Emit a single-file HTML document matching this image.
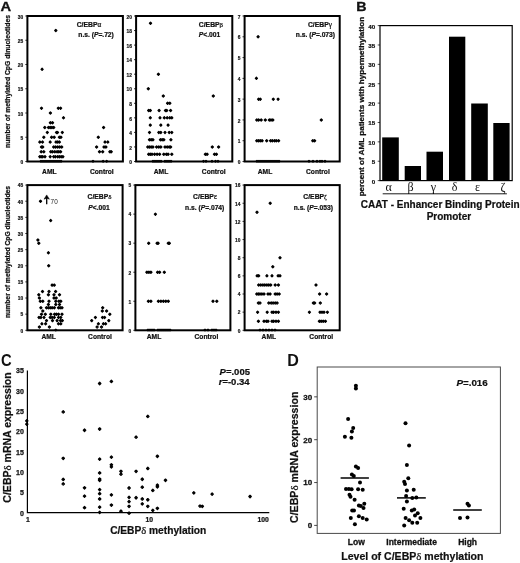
<!DOCTYPE html>
<html lang="en"><head><meta charset="utf-8"><title>Figure</title>
<style>html,body{margin:0;padding:0;background:#fff}svg{display:block}</style></head>
<body>
<svg width="520" height="563" viewBox="0 0 520 563" font-family="Liberation Sans, sans-serif">
<rect width="520" height="563" fill="#fff"/>
<text transform="translate(0.6 10.8) scale(1.19 1)" font-size="12.4" font-weight="bold" fill="#111" stroke="#111" stroke-width="0.3">A</text>
<text transform="translate(356.3 10.5) scale(1.15 1)" font-size="12.4" font-weight="bold" fill="#111" stroke="#111" stroke-width="0.3">B</text>
<text transform="translate(0.9 365.8) scale(0.9 1)" font-size="16.4" font-weight="bold" fill="#111">C</text>
<text transform="translate(287.2 365.6) scale(0.98 1)" font-size="16.4" font-weight="bold" fill="#111">D</text>
<rect x="27.4" y="16.0" width="95.5" height="145.5" fill="none" stroke="#000" stroke-width="2.0"/>
<line x1="25.299999999999997" y1="161.50" x2="27.4" y2="161.50" stroke="#000" stroke-width="0.8"/>
<text x="23.20" y="164.20" font-size="5.6" font-weight="bold" text-anchor="end" fill="#111" stroke="#111" stroke-width="0.20" stroke-linejoin="round" textLength="2.70" lengthAdjust="spacingAndGlyphs">0</text>
<line x1="25.299999999999997" y1="137.25" x2="27.4" y2="137.25" stroke="#000" stroke-width="0.8"/>
<text x="23.20" y="139.95" font-size="5.6" font-weight="bold" text-anchor="end" fill="#111" stroke="#111" stroke-width="0.20" stroke-linejoin="round" textLength="2.70" lengthAdjust="spacingAndGlyphs">5</text>
<line x1="25.299999999999997" y1="113.00" x2="27.4" y2="113.00" stroke="#000" stroke-width="0.8"/>
<text x="23.20" y="115.70" font-size="5.6" font-weight="bold" text-anchor="end" fill="#111" stroke="#111" stroke-width="0.20" stroke-linejoin="round" textLength="5.40" lengthAdjust="spacingAndGlyphs">10</text>
<line x1="25.299999999999997" y1="88.75" x2="27.4" y2="88.75" stroke="#000" stroke-width="0.8"/>
<text x="23.20" y="91.45" font-size="5.6" font-weight="bold" text-anchor="end" fill="#111" stroke="#111" stroke-width="0.20" stroke-linejoin="round" textLength="5.40" lengthAdjust="spacingAndGlyphs">15</text>
<line x1="25.299999999999997" y1="64.50" x2="27.4" y2="64.50" stroke="#000" stroke-width="0.8"/>
<text x="23.20" y="67.20" font-size="5.6" font-weight="bold" text-anchor="end" fill="#111" stroke="#111" stroke-width="0.20" stroke-linejoin="round" textLength="5.40" lengthAdjust="spacingAndGlyphs">20</text>
<line x1="25.299999999999997" y1="40.25" x2="27.4" y2="40.25" stroke="#000" stroke-width="0.8"/>
<text x="23.20" y="42.95" font-size="5.6" font-weight="bold" text-anchor="end" fill="#111" stroke="#111" stroke-width="0.20" stroke-linejoin="round" textLength="5.40" lengthAdjust="spacingAndGlyphs">25</text>
<line x1="25.299999999999997" y1="16.00" x2="27.4" y2="16.00" stroke="#000" stroke-width="0.8"/>
<text x="23.20" y="18.70" font-size="5.6" font-weight="bold" text-anchor="end" fill="#111" stroke="#111" stroke-width="0.20" stroke-linejoin="round" textLength="5.40" lengthAdjust="spacingAndGlyphs">30</text>
<g fill="#000" stroke="#000" stroke-width="1.3" stroke-linejoin="round">
<path d="M54.75 30.55L55.80 29.50L56.85 30.55L55.80 31.60Z"/>
<path d="M41.05 69.35L42.10 68.30L43.15 69.35L42.10 70.40Z"/>
<path d="M40.45 108.15L41.50 107.10L42.55 108.15L41.50 109.20Z"/>
<path d="M57.25 108.15L58.30 107.10L59.35 108.15L58.30 109.20Z"/>
<path d="M59.55 108.15L60.60 107.10L61.65 108.15L60.60 109.20Z"/>
<path d="M49.35 113.00L50.40 111.95L51.45 113.00L50.40 114.05Z"/>
<path d="M62.45 117.85L63.50 116.80L64.55 117.85L63.50 118.90Z"/>
<path d="M49.35 122.70L50.40 121.65L51.45 122.70L50.40 123.75Z"/>
<path d="M51.45 122.70L52.50 121.65L53.55 122.70L52.50 123.75Z"/>
<path d="M43.75 127.55L44.80 126.50L45.85 127.55L44.80 128.60Z"/>
<path d="M47.45 127.55L48.50 126.50L49.55 127.55L48.50 128.60Z"/>
<path d="M49.15 127.55L50.20 126.50L51.25 127.55L50.20 128.60Z"/>
<path d="M50.85 127.55L51.90 126.50L52.95 127.55L51.90 128.60Z"/>
<path d="M52.65 127.55L53.70 126.50L54.75 127.55L53.70 128.60Z"/>
<path d="M46.25 132.40L47.30 131.35L48.35 132.40L47.30 133.45Z"/>
<path d="M55.45 132.40L56.50 131.35L57.55 132.40L56.50 133.45Z"/>
<path d="M56.45 132.40L57.50 131.35L58.55 132.40L57.50 133.45Z"/>
<path d="M61.25 132.40L62.30 131.35L63.35 132.40L62.30 133.45Z"/>
<path d="M42.75 137.25L43.80 136.20L44.85 137.25L43.80 138.30Z"/>
<path d="M50.55 137.25L51.60 136.20L52.65 137.25L51.60 138.30Z"/>
<path d="M53.15 137.25L54.20 136.20L55.25 137.25L54.20 138.30Z"/>
<path d="M58.35 137.25L59.40 136.20L60.45 137.25L59.40 138.30Z"/>
<path d="M59.85 137.25L60.90 136.20L61.95 137.25L60.90 138.30Z"/>
<path d="M38.75 142.10L39.80 141.05L40.85 142.10L39.80 143.15Z"/>
<path d="M41.45 142.10L42.50 141.05L43.55 142.10L42.50 143.15Z"/>
<path d="M49.15 142.10L50.20 141.05L51.25 142.10L50.20 143.15Z"/>
<path d="M54.95 142.10L56.00 141.05L57.05 142.10L56.00 143.15Z"/>
<path d="M56.65 142.10L57.70 141.05L58.75 142.10L57.70 143.15Z"/>
<path d="M58.35 142.10L59.40 141.05L60.45 142.10L59.40 143.15Z"/>
<path d="M40.45 146.95L41.50 145.90L42.55 146.95L41.50 148.00Z"/>
<path d="M41.65 146.95L42.70 145.90L43.75 146.95L42.70 148.00Z"/>
<path d="M52.65 146.95L53.70 145.90L54.75 146.95L53.70 148.00Z"/>
<path d="M54.55 146.95L55.60 145.90L56.65 146.95L55.60 148.00Z"/>
<path d="M56.65 146.95L57.70 145.90L58.75 146.95L57.70 148.00Z"/>
<path d="M58.65 146.95L59.70 145.90L60.75 146.95L59.70 148.00Z"/>
<path d="M60.65 146.95L61.70 145.90L62.75 146.95L61.70 148.00Z"/>
<path d="M40.15 151.80L41.20 150.75L42.25 151.80L41.20 152.85Z"/>
<path d="M42.75 151.80L43.80 150.75L44.85 151.80L43.80 152.85Z"/>
<path d="M49.75 151.80L50.80 150.75L51.85 151.80L50.80 152.85Z"/>
<path d="M51.45 151.80L52.50 150.75L53.55 151.80L52.50 152.85Z"/>
<path d="M53.75 151.80L54.80 150.75L55.85 151.80L54.80 152.85Z"/>
<path d="M56.05 151.80L57.10 150.75L58.15 151.80L57.10 152.85Z"/>
<path d="M57.75 151.80L58.80 150.75L59.85 151.80L58.80 152.85Z"/>
<path d="M59.55 151.80L60.60 150.75L61.65 151.80L60.60 152.85Z"/>
<path d="M38.75 156.65L39.80 155.60L40.85 156.65L39.80 157.70Z"/>
<path d="M40.15 156.65L41.20 155.60L42.25 156.65L41.20 157.70Z"/>
<path d="M41.65 156.65L42.70 155.60L43.75 156.65L42.70 157.70Z"/>
<path d="M43.95 156.65L45.00 155.60L46.05 156.65L45.00 157.70Z"/>
<path d="M49.15 156.65L50.20 155.60L51.25 156.65L50.20 157.70Z"/>
<path d="M52.65 156.65L53.70 155.60L54.75 156.65L53.70 157.70Z"/>
<path d="M54.35 156.65L55.40 155.60L56.45 156.65L55.40 157.70Z"/>
<path d="M56.65 156.65L57.70 155.60L58.75 156.65L57.70 157.70Z"/>
<path d="M58.35 156.65L59.40 155.60L60.45 156.65L59.40 157.70Z"/>
<path d="M60.15 156.65L61.20 155.60L62.25 156.65L61.20 157.70Z"/>
<path d="M61.85 156.65L62.90 155.60L63.95 156.65L62.90 157.70Z"/>
<path d="M40.15 161.25L41.00 160.40L41.85 161.25L41.00 162.10Z"/>
<path d="M42.15 161.25L43.00 160.40L43.85 161.25L43.00 162.10Z"/>
<path d="M44.15 161.25L45.00 160.40L45.85 161.25L45.00 162.10Z"/>
<path d="M46.15 161.25L47.00 160.40L47.85 161.25L47.00 162.10Z"/>
<path d="M48.15 161.25L49.00 160.40L49.85 161.25L49.00 162.10Z"/>
<path d="M50.15 161.25L51.00 160.40L51.85 161.25L51.00 162.10Z"/>
<path d="M52.15 161.25L53.00 160.40L53.85 161.25L53.00 162.10Z"/>
<path d="M54.15 161.25L55.00 160.40L55.85 161.25L55.00 162.10Z"/>
<path d="M56.15 161.25L57.00 160.40L57.85 161.25L57.00 162.10Z"/>
<path d="M58.15 161.25L59.00 160.40L59.85 161.25L59.00 162.10Z"/>
<path d="M60.15 161.25L61.00 160.40L61.85 161.25L61.00 162.10Z"/>
<path d="M102.55 127.55L103.60 126.50L104.65 127.55L103.60 128.60Z"/>
<path d="M97.25 137.25L98.30 136.20L99.35 137.25L98.30 138.30Z"/>
<path d="M103.95 142.10L105.00 141.05L106.05 142.10L105.00 143.15Z"/>
<path d="M106.75 142.10L107.80 141.05L108.85 142.10L107.80 143.15Z"/>
<path d="M95.55 146.95L96.60 145.90L97.65 146.95L96.60 148.00Z"/>
<path d="M102.95 146.95L104.00 145.90L105.05 146.95L104.00 148.00Z"/>
<path d="M104.85 146.95L105.90 145.90L106.95 146.95L105.90 148.00Z"/>
<path d="M98.45 151.80L99.50 150.75L100.55 151.80L99.50 152.85Z"/>
<path d="M101.65 151.80L102.70 150.75L103.75 151.80L102.70 152.85Z"/>
<path d="M108.85 151.80L109.90 150.75L110.95 151.80L109.90 152.85Z"/>
<path d="M110.15 151.80L111.20 150.75L112.25 151.80L111.20 152.85Z"/>
<path d="M92.15 161.25L93.00 160.40L93.85 161.25L93.00 162.10Z"/>
<path d="M102.25 161.25L103.10 160.40L103.95 161.25L103.10 162.10Z"/>
<path d="M105.85 161.25L106.70 160.40L107.55 161.25L106.70 162.10Z"/>
</g>
<text x="49.30" y="173.50" font-size="6.7" font-weight="bold" text-anchor="middle" fill="#111" stroke="#111" stroke-width="0.23" stroke-linejoin="round" >AML</text>
<text x="101.80" y="173.50" font-size="6.7" font-weight="bold" text-anchor="middle" fill="#111" stroke="#111" stroke-width="0.23" stroke-linejoin="round" >Control</text>
<text x="76.70" y="27.10" font-size="6.8" font-weight="bold" text-anchor="start" fill="#111" stroke="#111" stroke-width="0.24" stroke-linejoin="round" >C/EBP<tspan font-family="Liberation Serif, serif" font-weight="normal" font-size="7.2">α</tspan></text>
<text x="78.30" y="37.40" font-size="6.7" font-weight="bold" text-anchor="start" fill="#111" stroke="#111" stroke-width="0.23" stroke-linejoin="round" >n.s. (<tspan font-style="italic">P</tspan>=.72)</text>
<rect x="136.1" y="16.0" width="96.20000000000002" height="145.5" fill="none" stroke="#000" stroke-width="2.0"/>
<line x1="134.0" y1="161.50" x2="136.1" y2="161.50" stroke="#000" stroke-width="0.8"/>
<text x="131.90" y="164.20" font-size="5.6" font-weight="bold" text-anchor="end" fill="#111" stroke="#111" stroke-width="0.20" stroke-linejoin="round" textLength="2.70" lengthAdjust="spacingAndGlyphs">0</text>
<line x1="134.0" y1="146.95" x2="136.1" y2="146.95" stroke="#000" stroke-width="0.8"/>
<text x="131.90" y="149.65" font-size="5.6" font-weight="bold" text-anchor="end" fill="#111" stroke="#111" stroke-width="0.20" stroke-linejoin="round" textLength="2.70" lengthAdjust="spacingAndGlyphs">2</text>
<line x1="134.0" y1="132.40" x2="136.1" y2="132.40" stroke="#000" stroke-width="0.8"/>
<text x="131.90" y="135.10" font-size="5.6" font-weight="bold" text-anchor="end" fill="#111" stroke="#111" stroke-width="0.20" stroke-linejoin="round" textLength="2.70" lengthAdjust="spacingAndGlyphs">4</text>
<line x1="134.0" y1="117.85" x2="136.1" y2="117.85" stroke="#000" stroke-width="0.8"/>
<text x="131.90" y="120.55" font-size="5.6" font-weight="bold" text-anchor="end" fill="#111" stroke="#111" stroke-width="0.20" stroke-linejoin="round" textLength="2.70" lengthAdjust="spacingAndGlyphs">6</text>
<line x1="134.0" y1="103.30" x2="136.1" y2="103.30" stroke="#000" stroke-width="0.8"/>
<text x="131.90" y="106.00" font-size="5.6" font-weight="bold" text-anchor="end" fill="#111" stroke="#111" stroke-width="0.20" stroke-linejoin="round" textLength="2.70" lengthAdjust="spacingAndGlyphs">8</text>
<line x1="134.0" y1="88.75" x2="136.1" y2="88.75" stroke="#000" stroke-width="0.8"/>
<text x="131.90" y="91.45" font-size="5.6" font-weight="bold" text-anchor="end" fill="#111" stroke="#111" stroke-width="0.20" stroke-linejoin="round" textLength="5.40" lengthAdjust="spacingAndGlyphs">10</text>
<line x1="134.0" y1="74.20" x2="136.1" y2="74.20" stroke="#000" stroke-width="0.8"/>
<text x="131.90" y="76.90" font-size="5.6" font-weight="bold" text-anchor="end" fill="#111" stroke="#111" stroke-width="0.20" stroke-linejoin="round" textLength="5.40" lengthAdjust="spacingAndGlyphs">12</text>
<line x1="134.0" y1="59.65" x2="136.1" y2="59.65" stroke="#000" stroke-width="0.8"/>
<text x="131.90" y="62.35" font-size="5.6" font-weight="bold" text-anchor="end" fill="#111" stroke="#111" stroke-width="0.20" stroke-linejoin="round" textLength="5.40" lengthAdjust="spacingAndGlyphs">14</text>
<line x1="134.0" y1="45.10" x2="136.1" y2="45.10" stroke="#000" stroke-width="0.8"/>
<text x="131.90" y="47.80" font-size="5.6" font-weight="bold" text-anchor="end" fill="#111" stroke="#111" stroke-width="0.20" stroke-linejoin="round" textLength="5.40" lengthAdjust="spacingAndGlyphs">16</text>
<line x1="134.0" y1="30.55" x2="136.1" y2="30.55" stroke="#000" stroke-width="0.8"/>
<text x="131.90" y="33.25" font-size="5.6" font-weight="bold" text-anchor="end" fill="#111" stroke="#111" stroke-width="0.20" stroke-linejoin="round" textLength="5.40" lengthAdjust="spacingAndGlyphs">18</text>
<line x1="134.0" y1="16.00" x2="136.1" y2="16.00" stroke="#000" stroke-width="0.8"/>
<text x="131.90" y="18.70" font-size="5.6" font-weight="bold" text-anchor="end" fill="#111" stroke="#111" stroke-width="0.20" stroke-linejoin="round" textLength="5.40" lengthAdjust="spacingAndGlyphs">20</text>
<g fill="#000" stroke="#000" stroke-width="1.3" stroke-linejoin="round">
<path d="M149.45 23.28L150.50 22.23L151.55 23.28L150.50 24.33Z"/>
<path d="M157.35 74.20L158.40 73.15L159.45 74.20L158.40 75.25Z"/>
<path d="M147.25 88.75L148.30 87.70L149.35 88.75L148.30 89.80Z"/>
<path d="M162.25 96.03L163.30 94.98L164.35 96.03L163.30 97.08Z"/>
<path d="M166.55 103.30L167.60 102.25L168.65 103.30L167.60 104.35Z"/>
<path d="M168.75 103.30L169.80 102.25L170.85 103.30L169.80 104.35Z"/>
<path d="M147.65 110.58L148.70 109.53L149.75 110.58L148.70 111.62Z"/>
<path d="M149.25 110.58L150.30 109.53L151.35 110.58L150.30 111.62Z"/>
<path d="M158.05 110.58L159.10 109.53L160.15 110.58L159.10 111.62Z"/>
<path d="M164.45 110.58L165.50 109.53L166.55 110.58L165.50 111.62Z"/>
<path d="M165.65 110.58L166.70 109.53L167.75 110.58L166.70 111.62Z"/>
<path d="M169.55 110.58L170.60 109.53L171.65 110.58L170.60 111.62Z"/>
<path d="M149.25 117.85L150.30 116.80L151.35 117.85L150.30 118.90Z"/>
<path d="M158.95 117.85L160.00 116.80L161.05 117.85L160.00 118.90Z"/>
<path d="M163.25 117.85L164.30 116.80L165.35 117.85L164.30 118.90Z"/>
<path d="M166.15 117.85L167.20 116.80L168.25 117.85L167.20 118.90Z"/>
<path d="M168.75 117.85L169.80 116.80L170.85 117.85L169.80 118.90Z"/>
<path d="M170.75 117.85L171.80 116.80L172.85 117.85L171.80 118.90Z"/>
<path d="M149.25 125.12L150.30 124.08L151.35 125.12L150.30 126.17Z"/>
<path d="M159.75 125.12L160.80 124.08L161.85 125.12L160.80 126.17Z"/>
<path d="M167.05 125.12L168.10 124.08L169.15 125.12L168.10 126.17Z"/>
<path d="M148.45 132.40L149.50 131.35L150.55 132.40L149.50 133.45Z"/>
<path d="M157.75 132.40L158.80 131.35L159.85 132.40L158.80 133.45Z"/>
<path d="M159.75 132.40L160.80 131.35L161.85 132.40L160.80 133.45Z"/>
<path d="M163.95 132.40L165.00 131.35L166.05 132.40L165.00 133.45Z"/>
<path d="M168.15 132.40L169.20 131.35L170.25 132.40L169.20 133.45Z"/>
<path d="M170.75 132.40L171.80 131.35L172.85 132.40L171.80 133.45Z"/>
<path d="M148.45 139.68L149.50 138.62L150.55 139.68L149.50 140.73Z"/>
<path d="M150.15 139.68L151.20 138.62L152.25 139.68L151.20 140.73Z"/>
<path d="M151.85 139.68L152.90 138.62L153.95 139.68L152.90 140.73Z"/>
<path d="M159.45 139.68L160.50 138.62L161.55 139.68L160.50 140.73Z"/>
<path d="M161.15 139.68L162.20 138.62L163.25 139.68L162.20 140.73Z"/>
<path d="M162.75 139.68L163.80 138.62L164.85 139.68L163.80 140.73Z"/>
<path d="M169.85 139.68L170.90 138.62L171.95 139.68L170.90 140.73Z"/>
<path d="M146.75 146.95L147.80 145.90L148.85 146.95L147.80 148.00Z"/>
<path d="M148.45 146.95L149.50 145.90L150.55 146.95L149.50 148.00Z"/>
<path d="M150.15 146.95L151.20 145.90L152.25 146.95L151.20 148.00Z"/>
<path d="M151.85 146.95L152.90 145.90L153.95 146.95L152.90 148.00Z"/>
<path d="M155.55 146.95L156.60 145.90L157.65 146.95L156.60 148.00Z"/>
<path d="M157.75 146.95L158.80 145.90L159.85 146.95L158.80 148.00Z"/>
<path d="M159.75 146.95L160.80 145.90L161.85 146.95L160.80 148.00Z"/>
<path d="M163.95 146.95L165.00 145.90L166.05 146.95L165.00 148.00Z"/>
<path d="M166.15 146.95L167.20 145.90L168.25 146.95L167.20 148.00Z"/>
<path d="M168.15 146.95L169.20 145.90L170.25 146.95L169.20 148.00Z"/>
<path d="M169.55 146.95L170.60 145.90L171.65 146.95L170.60 148.00Z"/>
<path d="M147.65 154.22L148.70 153.17L149.75 154.22L148.70 155.28Z"/>
<path d="M149.25 154.22L150.30 153.17L151.35 154.22L150.30 155.28Z"/>
<path d="M150.95 154.22L152.00 153.17L153.05 154.22L152.00 155.28Z"/>
<path d="M153.55 154.22L154.60 153.17L155.65 154.22L154.60 155.28Z"/>
<path d="M156.05 154.22L157.10 153.17L158.15 154.22L157.10 155.28Z"/>
<path d="M158.55 154.22L159.60 153.17L160.65 154.22L159.60 155.28Z"/>
<path d="M162.75 154.22L163.80 153.17L164.85 154.22L163.80 155.28Z"/>
<path d="M165.35 154.22L166.40 153.17L167.45 154.22L166.40 155.28Z"/>
<path d="M167.05 154.22L168.10 153.17L169.15 154.22L168.10 155.28Z"/>
<path d="M170.75 154.22L171.80 153.17L172.85 154.22L171.80 155.28Z"/>
<path d="M152.15 161.25L153.00 160.40L153.85 161.25L153.00 162.10Z"/>
<path d="M154.15 161.25L155.00 160.40L155.85 161.25L155.00 162.10Z"/>
<path d="M156.15 161.25L157.00 160.40L157.85 161.25L157.00 162.10Z"/>
<path d="M158.15 161.25L159.00 160.40L159.85 161.25L159.00 162.10Z"/>
<path d="M160.15 161.25L161.00 160.40L161.85 161.25L161.00 162.10Z"/>
<path d="M164.15 161.25L165.00 160.40L165.85 161.25L165.00 162.10Z"/>
<path d="M166.15 161.25L167.00 160.40L167.85 161.25L167.00 162.10Z"/>
<path d="M168.15 161.25L169.00 160.40L169.85 161.25L169.00 162.10Z"/>
<path d="M170.15 161.25L171.00 160.40L171.85 161.25L171.00 162.10Z"/>
<path d="M212.25 96.03L213.30 94.98L214.35 96.03L213.30 97.08Z"/>
<path d="M211.25 146.95L212.30 145.90L213.35 146.95L212.30 148.00Z"/>
<path d="M217.55 146.95L218.60 145.90L219.65 146.95L218.60 148.00Z"/>
<path d="M204.35 154.22L205.40 153.17L206.45 154.22L205.40 155.28Z"/>
<path d="M206.05 154.22L207.10 153.17L208.15 154.22L207.10 155.28Z"/>
<path d="M213.45 154.22L214.50 153.17L215.55 154.22L214.50 155.28Z"/>
<path d="M215.35 154.22L216.40 153.17L217.45 154.22L216.40 155.28Z"/>
<path d="M202.65 161.25L203.50 160.40L204.35 161.25L203.50 162.10Z"/>
<path d="M205.15 161.25L206.00 160.40L206.85 161.25L206.00 162.10Z"/>
<path d="M211.15 161.25L212.00 160.40L212.85 161.25L212.00 162.10Z"/>
<path d="M214.65 161.25L215.50 160.40L216.35 161.25L215.50 162.10Z"/>
<path d="M217.15 161.25L218.00 160.40L218.85 161.25L218.00 162.10Z"/>
</g>
<text x="161.00" y="173.50" font-size="6.7" font-weight="bold" text-anchor="middle" fill="#111" stroke="#111" stroke-width="0.23" stroke-linejoin="round" >AML</text>
<text x="213.70" y="173.50" font-size="6.7" font-weight="bold" text-anchor="middle" fill="#111" stroke="#111" stroke-width="0.23" stroke-linejoin="round" >Control</text>
<text x="198.80" y="27.10" font-size="6.8" font-weight="bold" text-anchor="start" fill="#111" stroke="#111" stroke-width="0.24" stroke-linejoin="round" >C/EBP<tspan font-family="Liberation Serif, serif" font-weight="normal" font-size="6.8">β</tspan></text>
<text x="198.80" y="37.40" font-size="6.7" font-weight="bold" text-anchor="start" fill="#111" stroke="#111" stroke-width="0.23" stroke-linejoin="round" ><tspan font-style="italic">P</tspan>&lt;.001</text>
<rect x="244.6" y="16.0" width="95.1" height="145.5" fill="none" stroke="#000" stroke-width="2.0"/>
<line x1="242.5" y1="161.50" x2="244.6" y2="161.50" stroke="#000" stroke-width="0.8"/>
<text x="240.40" y="164.20" font-size="5.6" font-weight="bold" text-anchor="end" fill="#111" stroke="#111" stroke-width="0.20" stroke-linejoin="round" textLength="2.70" lengthAdjust="spacingAndGlyphs">0</text>
<line x1="242.5" y1="140.71" x2="244.6" y2="140.71" stroke="#000" stroke-width="0.8"/>
<text x="240.40" y="143.41" font-size="5.6" font-weight="bold" text-anchor="end" fill="#111" stroke="#111" stroke-width="0.20" stroke-linejoin="round" textLength="2.70" lengthAdjust="spacingAndGlyphs">1</text>
<line x1="242.5" y1="119.93" x2="244.6" y2="119.93" stroke="#000" stroke-width="0.8"/>
<text x="240.40" y="122.63" font-size="5.6" font-weight="bold" text-anchor="end" fill="#111" stroke="#111" stroke-width="0.20" stroke-linejoin="round" textLength="2.70" lengthAdjust="spacingAndGlyphs">2</text>
<line x1="242.5" y1="99.14" x2="244.6" y2="99.14" stroke="#000" stroke-width="0.8"/>
<text x="240.40" y="101.84" font-size="5.6" font-weight="bold" text-anchor="end" fill="#111" stroke="#111" stroke-width="0.20" stroke-linejoin="round" textLength="2.70" lengthAdjust="spacingAndGlyphs">3</text>
<line x1="242.5" y1="78.36" x2="244.6" y2="78.36" stroke="#000" stroke-width="0.8"/>
<text x="240.40" y="81.06" font-size="5.6" font-weight="bold" text-anchor="end" fill="#111" stroke="#111" stroke-width="0.20" stroke-linejoin="round" textLength="2.70" lengthAdjust="spacingAndGlyphs">4</text>
<line x1="242.5" y1="57.57" x2="244.6" y2="57.57" stroke="#000" stroke-width="0.8"/>
<text x="240.40" y="60.27" font-size="5.6" font-weight="bold" text-anchor="end" fill="#111" stroke="#111" stroke-width="0.20" stroke-linejoin="round" textLength="2.70" lengthAdjust="spacingAndGlyphs">5</text>
<line x1="242.5" y1="36.79" x2="244.6" y2="36.79" stroke="#000" stroke-width="0.8"/>
<text x="240.40" y="39.49" font-size="5.6" font-weight="bold" text-anchor="end" fill="#111" stroke="#111" stroke-width="0.20" stroke-linejoin="round" textLength="2.70" lengthAdjust="spacingAndGlyphs">6</text>
<line x1="242.5" y1="16.00" x2="244.6" y2="16.00" stroke="#000" stroke-width="0.8"/>
<text x="240.40" y="18.70" font-size="5.6" font-weight="bold" text-anchor="end" fill="#111" stroke="#111" stroke-width="0.20" stroke-linejoin="round" textLength="2.70" lengthAdjust="spacingAndGlyphs">7</text>
<g fill="#000" stroke="#000" stroke-width="1.3" stroke-linejoin="round">
<path d="M257.05 36.79L258.10 35.74L259.15 36.79L258.10 37.84Z"/>
<path d="M255.35 78.36L256.40 77.31L257.45 78.36L256.40 79.41Z"/>
<path d="M257.55 99.14L258.60 98.09L259.65 99.14L258.60 100.19Z"/>
<path d="M259.25 99.14L260.30 98.09L261.35 99.14L260.30 100.19Z"/>
<path d="M272.25 99.14L273.30 98.09L274.35 99.14L273.30 100.19Z"/>
<path d="M277.05 99.14L278.10 98.09L279.15 99.14L278.10 100.19Z"/>
<path d="M255.75 119.93L256.80 118.88L257.85 119.93L256.80 120.98Z"/>
<path d="M257.55 119.93L258.60 118.88L259.65 119.93L258.60 120.98Z"/>
<path d="M260.15 119.93L261.20 118.88L262.25 119.93L261.20 120.98Z"/>
<path d="M264.25 119.93L265.30 118.88L266.35 119.93L265.30 120.98Z"/>
<path d="M268.35 119.93L269.40 118.88L270.45 119.93L269.40 120.98Z"/>
<path d="M269.95 119.93L271.00 118.88L272.05 119.93L271.00 120.98Z"/>
<path d="M271.75 119.93L272.80 118.88L273.85 119.93L272.80 120.98Z"/>
<path d="M255.75 140.71L256.80 139.66L257.85 140.71L256.80 141.76Z"/>
<path d="M257.55 140.71L258.60 139.66L259.65 140.71L258.60 141.76Z"/>
<path d="M259.25 140.71L260.30 139.66L261.35 140.71L260.30 141.76Z"/>
<path d="M261.05 140.71L262.10 139.66L263.15 140.71L262.10 141.76Z"/>
<path d="M265.65 140.71L266.70 139.66L267.75 140.71L266.70 141.76Z"/>
<path d="M269.55 140.71L270.60 139.66L271.65 140.71L270.60 141.76Z"/>
<path d="M271.35 140.71L272.40 139.66L273.45 140.71L272.40 141.76Z"/>
<path d="M273.55 140.71L274.60 139.66L275.65 140.71L274.60 141.76Z"/>
<path d="M275.25 140.71L276.30 139.66L277.35 140.71L276.30 141.76Z"/>
<path d="M277.55 140.71L278.60 139.66L279.65 140.71L278.60 141.76Z"/>
<path d="M256.15 161.25L257.00 160.40L257.85 161.25L257.00 162.10Z"/>
<path d="M258.15 161.25L259.00 160.40L259.85 161.25L259.00 162.10Z"/>
<path d="M260.15 161.25L261.00 160.40L261.85 161.25L261.00 162.10Z"/>
<path d="M262.15 161.25L263.00 160.40L263.85 161.25L263.00 162.10Z"/>
<path d="M264.15 161.25L265.00 160.40L265.85 161.25L265.00 162.10Z"/>
<path d="M266.15 161.25L267.00 160.40L267.85 161.25L267.00 162.10Z"/>
<path d="M268.15 161.25L269.00 160.40L269.85 161.25L269.00 162.10Z"/>
<path d="M270.15 161.25L271.00 160.40L271.85 161.25L271.00 162.10Z"/>
<path d="M272.15 161.25L273.00 160.40L273.85 161.25L273.00 162.10Z"/>
<path d="M274.15 161.25L275.00 160.40L275.85 161.25L275.00 162.10Z"/>
<path d="M276.15 161.25L277.00 160.40L277.85 161.25L277.00 162.10Z"/>
<path d="M278.15 161.25L279.00 160.40L279.85 161.25L279.00 162.10Z"/>
<path d="M320.25 119.93L321.30 118.88L322.35 119.93L321.30 120.98Z"/>
<path d="M311.75 140.71L312.80 139.66L313.85 140.71L312.80 141.76Z"/>
<path d="M313.55 140.71L314.60 139.66L315.65 140.71L314.60 141.76Z"/>
<path d="M308.15 161.25L309.00 160.40L309.85 161.25L309.00 162.10Z"/>
<path d="M312.15 161.25L313.00 160.40L313.85 161.25L313.00 162.10Z"/>
<path d="M316.15 161.25L317.00 160.40L317.85 161.25L317.00 162.10Z"/>
<path d="M319.15 161.25L320.00 160.40L320.85 161.25L320.00 162.10Z"/>
<path d="M321.15 161.25L322.00 160.40L322.85 161.25L322.00 162.10Z"/>
<path d="M324.15 161.25L325.00 160.40L325.85 161.25L325.00 162.10Z"/>
</g>
<text x="265.00" y="173.50" font-size="6.7" font-weight="bold" text-anchor="middle" fill="#111" stroke="#111" stroke-width="0.23" stroke-linejoin="round" >AML</text>
<text x="317.90" y="173.50" font-size="6.7" font-weight="bold" text-anchor="middle" fill="#111" stroke="#111" stroke-width="0.23" stroke-linejoin="round" >Control</text>
<text x="307.90" y="27.10" font-size="6.8" font-weight="bold" text-anchor="start" fill="#111" stroke="#111" stroke-width="0.24" stroke-linejoin="round" >C/EBP<tspan font-family="Liberation Serif, serif" font-weight="normal" font-size="7.2">γ</tspan></text>
<text x="295.80" y="37.40" font-size="6.7" font-weight="bold" text-anchor="start" fill="#111" stroke="#111" stroke-width="0.23" stroke-linejoin="round" >n.s. (<tspan font-style="italic">P</tspan>=.073)</text>
<rect x="27.4" y="185.1" width="95.19999999999999" height="145.20000000000002" fill="none" stroke="#000" stroke-width="2.0"/>
<line x1="25.299999999999997" y1="330.30" x2="27.4" y2="330.30" stroke="#000" stroke-width="0.8"/>
<text x="23.20" y="332.60" font-size="5.6" font-weight="bold" text-anchor="end" fill="#111" stroke="#111" stroke-width="0.20" stroke-linejoin="round" textLength="2.70" lengthAdjust="spacingAndGlyphs">0</text>
<line x1="25.299999999999997" y1="314.17" x2="27.4" y2="314.17" stroke="#000" stroke-width="0.8"/>
<text x="23.20" y="316.47" font-size="5.6" font-weight="bold" text-anchor="end" fill="#111" stroke="#111" stroke-width="0.20" stroke-linejoin="round" textLength="2.70" lengthAdjust="spacingAndGlyphs">5</text>
<line x1="25.299999999999997" y1="298.03" x2="27.4" y2="298.03" stroke="#000" stroke-width="0.8"/>
<text x="23.20" y="300.33" font-size="5.6" font-weight="bold" text-anchor="end" fill="#111" stroke="#111" stroke-width="0.20" stroke-linejoin="round" textLength="5.40" lengthAdjust="spacingAndGlyphs">10</text>
<line x1="25.299999999999997" y1="281.90" x2="27.4" y2="281.90" stroke="#000" stroke-width="0.8"/>
<text x="23.20" y="284.20" font-size="5.6" font-weight="bold" text-anchor="end" fill="#111" stroke="#111" stroke-width="0.20" stroke-linejoin="round" textLength="5.40" lengthAdjust="spacingAndGlyphs">15</text>
<line x1="25.299999999999997" y1="265.77" x2="27.4" y2="265.77" stroke="#000" stroke-width="0.8"/>
<text x="23.20" y="268.07" font-size="5.6" font-weight="bold" text-anchor="end" fill="#111" stroke="#111" stroke-width="0.20" stroke-linejoin="round" textLength="5.40" lengthAdjust="spacingAndGlyphs">20</text>
<line x1="25.299999999999997" y1="249.63" x2="27.4" y2="249.63" stroke="#000" stroke-width="0.8"/>
<text x="23.20" y="251.93" font-size="5.6" font-weight="bold" text-anchor="end" fill="#111" stroke="#111" stroke-width="0.20" stroke-linejoin="round" textLength="5.40" lengthAdjust="spacingAndGlyphs">25</text>
<line x1="25.299999999999997" y1="233.50" x2="27.4" y2="233.50" stroke="#000" stroke-width="0.8"/>
<text x="23.20" y="235.80" font-size="5.6" font-weight="bold" text-anchor="end" fill="#111" stroke="#111" stroke-width="0.20" stroke-linejoin="round" textLength="5.40" lengthAdjust="spacingAndGlyphs">30</text>
<line x1="25.299999999999997" y1="217.37" x2="27.4" y2="217.37" stroke="#000" stroke-width="0.8"/>
<text x="23.20" y="219.67" font-size="5.6" font-weight="bold" text-anchor="end" fill="#111" stroke="#111" stroke-width="0.20" stroke-linejoin="round" textLength="5.40" lengthAdjust="spacingAndGlyphs">35</text>
<line x1="25.299999999999997" y1="201.23" x2="27.4" y2="201.23" stroke="#000" stroke-width="0.8"/>
<text x="23.20" y="203.53" font-size="5.6" font-weight="bold" text-anchor="end" fill="#111" stroke="#111" stroke-width="0.20" stroke-linejoin="round" textLength="5.40" lengthAdjust="spacingAndGlyphs">40</text>
<line x1="25.299999999999997" y1="185.10" x2="27.4" y2="185.10" stroke="#000" stroke-width="0.8"/>
<text x="23.20" y="187.40" font-size="5.6" font-weight="bold" text-anchor="end" fill="#111" stroke="#111" stroke-width="0.20" stroke-linejoin="round" textLength="5.40" lengthAdjust="spacingAndGlyphs">45</text>
<g fill="#000" stroke="#000" stroke-width="1.3" stroke-linejoin="round">
<path d="M39.45 201.23L40.50 200.18L41.55 201.23L40.50 202.28Z"/>
<path d="M49.65 220.59L50.70 219.54L51.75 220.59L50.70 221.64Z"/>
<path d="M36.85 239.95L37.90 238.90L38.95 239.95L37.90 241.00Z"/>
<path d="M37.75 243.18L38.80 242.13L39.85 243.18L38.80 244.23Z"/>
<path d="M47.35 252.86L48.40 251.81L49.45 252.86L48.40 253.91Z"/>
<path d="M47.65 265.77L48.70 264.72L49.75 265.77L48.70 266.82Z"/>
<path d="M51.05 285.13L52.10 284.08L53.15 285.13L52.10 286.18Z"/>
<path d="M53.25 285.13L54.30 284.08L55.35 285.13L54.30 286.18Z"/>
<path d="M41.45 291.58L42.50 290.53L43.55 291.58L42.50 292.63Z"/>
<path d="M47.95 291.58L49.00 290.53L50.05 291.58L49.00 292.63Z"/>
<path d="M54.55 291.58L55.60 290.53L56.65 291.58L55.60 292.63Z"/>
<path d="M37.75 294.81L38.80 293.76L39.85 294.81L38.80 295.86Z"/>
<path d="M47.35 294.81L48.40 293.76L49.45 294.81L48.40 295.86Z"/>
<path d="M52.95 294.81L54.00 293.76L55.05 294.81L54.00 295.86Z"/>
<path d="M58.45 294.81L59.50 293.76L60.55 294.81L59.50 295.86Z"/>
<path d="M38.35 298.03L39.40 296.98L40.45 298.03L39.40 299.08Z"/>
<path d="M52.95 298.03L54.00 296.98L55.05 298.03L54.00 299.08Z"/>
<path d="M55.15 298.03L56.20 296.98L57.25 298.03L56.20 299.08Z"/>
<path d="M39.25 301.26L40.30 300.21L41.35 301.26L40.30 302.31Z"/>
<path d="M41.75 301.26L42.80 300.21L43.85 301.26L42.80 302.31Z"/>
<path d="M47.95 301.26L49.00 300.21L50.05 301.26L49.00 302.31Z"/>
<path d="M54.75 301.26L55.80 300.21L56.85 301.26L55.80 302.31Z"/>
<path d="M57.85 301.26L58.90 300.21L59.95 301.26L58.90 302.31Z"/>
<path d="M59.75 301.26L60.80 300.21L61.85 301.26L60.80 302.31Z"/>
<path d="M47.35 304.49L48.40 303.44L49.45 304.49L48.40 305.54Z"/>
<path d="M54.75 304.49L55.80 303.44L56.85 304.49L55.80 305.54Z"/>
<path d="M58.45 304.49L59.50 303.44L60.55 304.49L59.50 305.54Z"/>
<path d="M39.85 307.71L40.90 306.66L41.95 307.71L40.90 308.76Z"/>
<path d="M45.45 307.71L46.50 306.66L47.55 307.71L46.50 308.76Z"/>
<path d="M47.35 307.71L48.40 306.66L49.45 307.71L48.40 308.76Z"/>
<path d="M49.15 307.71L50.20 306.66L51.25 307.71L50.20 308.76Z"/>
<path d="M51.05 307.71L52.10 306.66L53.15 307.71L52.10 308.76Z"/>
<path d="M53.25 307.71L54.30 306.66L55.35 307.71L54.30 308.76Z"/>
<path d="M57.45 307.71L58.50 306.66L59.55 307.71L58.50 308.76Z"/>
<path d="M59.15 307.71L60.20 306.66L61.25 307.71L60.20 308.76Z"/>
<path d="M60.95 307.71L62.00 306.66L63.05 307.71L62.00 308.76Z"/>
<path d="M41.75 310.94L42.80 309.89L43.85 310.94L42.80 311.99Z"/>
<path d="M40.45 314.17L41.50 313.12L42.55 314.17L41.50 315.22Z"/>
<path d="M44.25 314.17L45.30 313.12L46.35 314.17L45.30 315.22Z"/>
<path d="M49.75 314.17L50.80 313.12L51.85 314.17L50.80 315.22Z"/>
<path d="M53.55 314.17L54.60 313.12L55.65 314.17L54.60 315.22Z"/>
<path d="M55.35 314.17L56.40 313.12L57.45 314.17L56.40 315.22Z"/>
<path d="M57.45 314.17L58.50 313.12L59.55 314.17L58.50 315.22Z"/>
<path d="M60.95 314.17L62.00 313.12L63.05 314.17L62.00 315.22Z"/>
<path d="M37.95 317.39L39.00 316.34L40.05 317.39L39.00 318.44Z"/>
<path d="M39.85 317.39L40.90 316.34L41.95 317.39L40.90 318.44Z"/>
<path d="M42.95 317.39L44.00 316.34L45.05 317.39L44.00 318.44Z"/>
<path d="M49.15 317.39L50.20 316.34L51.25 317.39L50.20 318.44Z"/>
<path d="M51.05 317.39L52.10 316.34L53.15 317.39L52.10 318.44Z"/>
<path d="M53.25 317.39L54.30 316.34L55.35 317.39L54.30 318.44Z"/>
<path d="M57.45 317.39L58.50 316.34L59.55 317.39L58.50 318.44Z"/>
<path d="M59.75 317.39L60.80 316.34L61.85 317.39L60.80 318.44Z"/>
<path d="M45.45 320.62L46.50 319.57L47.55 320.62L46.50 321.67Z"/>
<path d="M51.45 320.62L52.50 319.57L53.55 320.62L52.50 321.67Z"/>
<path d="M56.05 320.62L57.10 319.57L58.15 320.62L57.10 321.67Z"/>
<path d="M59.45 320.62L60.50 319.57L61.55 320.62L60.50 321.67Z"/>
<path d="M61.25 320.62L62.30 319.57L63.35 320.62L62.30 321.67Z"/>
<path d="M40.85 323.85L41.90 322.80L42.95 323.85L41.90 324.90Z"/>
<path d="M44.55 323.85L45.60 322.80L46.65 323.85L45.60 324.90Z"/>
<path d="M57.45 323.85L58.50 322.80L59.55 323.85L58.50 324.90Z"/>
<path d="M59.75 323.85L60.80 322.80L61.85 323.85L60.80 324.90Z"/>
<path d="M38.35 327.07L39.40 326.02L40.45 327.07L39.40 328.12Z"/>
<path d="M48.35 327.07L49.40 326.02L50.45 327.07L49.40 328.12Z"/>
<path d="M54.95 330.05L55.80 329.20L56.65 330.05L55.80 330.90Z"/>
<path d="M101.65 307.71L102.70 306.66L103.75 307.71L102.70 308.76Z"/>
<path d="M101.25 310.94L102.30 309.89L103.35 310.94L102.30 311.99Z"/>
<path d="M105.55 310.94L106.60 309.89L107.65 310.94L106.60 311.99Z"/>
<path d="M108.75 314.17L109.80 313.12L110.85 314.17L109.80 315.22Z"/>
<path d="M94.35 317.39L95.40 316.34L96.45 317.39L95.40 318.44Z"/>
<path d="M101.45 317.39L102.50 316.34L103.55 317.39L102.50 318.44Z"/>
<path d="M103.55 317.39L104.60 316.34L105.65 317.39L104.60 318.44Z"/>
<path d="M90.65 320.62L91.70 319.57L92.75 320.62L91.70 321.67Z"/>
<path d="M107.75 320.62L108.80 319.57L109.85 320.62L108.80 321.67Z"/>
<path d="M97.35 323.85L98.40 322.80L99.45 323.85L98.40 324.90Z"/>
<path d="M102.35 323.85L103.40 322.80L104.45 323.85L103.40 324.90Z"/>
<path d="M104.55 323.85L105.60 322.80L106.65 323.85L105.60 324.90Z"/>
<path d="M96.05 327.07L97.10 326.02L98.15 327.07L97.10 328.12Z"/>
<path d="M100.45 327.07L101.50 326.02L102.55 327.07L101.50 328.12Z"/>
</g>
<text x="48.70" y="338.60" font-size="6.7" font-weight="bold" text-anchor="middle" fill="#111" stroke="#111" stroke-width="0.23" stroke-linejoin="round" >AML</text>
<text x="100.00" y="338.60" font-size="6.7" font-weight="bold" text-anchor="middle" fill="#111" stroke="#111" stroke-width="0.23" stroke-linejoin="round" >Control</text>
<text x="87.50" y="198.90" font-size="6.8" font-weight="bold" text-anchor="start" fill="#111" stroke="#111" stroke-width="0.24" stroke-linejoin="round" >C/EBP<tspan font-family="Liberation Serif, serif" font-weight="normal" font-size="6.9">δ</tspan></text>
<text x="88.30" y="209.60" font-size="6.7" font-weight="bold" text-anchor="start" fill="#111" stroke="#111" stroke-width="0.23" stroke-linejoin="round" ><tspan font-style="italic">P</tspan>&lt;.001</text>
<rect x="135.4" y="185.1" width="95.0" height="145.20000000000002" fill="none" stroke="#000" stroke-width="2.0"/>
<line x1="133.3" y1="330.30" x2="135.4" y2="330.30" stroke="#000" stroke-width="0.8"/>
<text x="131.20" y="332.60" font-size="5.6" font-weight="bold" text-anchor="end" fill="#111" stroke="#111" stroke-width="0.20" stroke-linejoin="round" textLength="2.70" lengthAdjust="spacingAndGlyphs">0</text>
<line x1="133.3" y1="301.26" x2="135.4" y2="301.26" stroke="#000" stroke-width="0.8"/>
<text x="131.20" y="303.56" font-size="5.6" font-weight="bold" text-anchor="end" fill="#111" stroke="#111" stroke-width="0.20" stroke-linejoin="round" textLength="2.70" lengthAdjust="spacingAndGlyphs">1</text>
<line x1="133.3" y1="272.22" x2="135.4" y2="272.22" stroke="#000" stroke-width="0.8"/>
<text x="131.20" y="274.52" font-size="5.6" font-weight="bold" text-anchor="end" fill="#111" stroke="#111" stroke-width="0.20" stroke-linejoin="round" textLength="2.70" lengthAdjust="spacingAndGlyphs">2</text>
<line x1="133.3" y1="243.18" x2="135.4" y2="243.18" stroke="#000" stroke-width="0.8"/>
<text x="131.20" y="245.48" font-size="5.6" font-weight="bold" text-anchor="end" fill="#111" stroke="#111" stroke-width="0.20" stroke-linejoin="round" textLength="2.70" lengthAdjust="spacingAndGlyphs">3</text>
<line x1="133.3" y1="214.14" x2="135.4" y2="214.14" stroke="#000" stroke-width="0.8"/>
<text x="131.20" y="216.44" font-size="5.6" font-weight="bold" text-anchor="end" fill="#111" stroke="#111" stroke-width="0.20" stroke-linejoin="round" textLength="2.70" lengthAdjust="spacingAndGlyphs">4</text>
<line x1="133.3" y1="185.10" x2="135.4" y2="185.10" stroke="#000" stroke-width="0.8"/>
<text x="131.20" y="187.40" font-size="5.6" font-weight="bold" text-anchor="end" fill="#111" stroke="#111" stroke-width="0.20" stroke-linejoin="round" textLength="2.70" lengthAdjust="spacingAndGlyphs">5</text>
<g fill="#000" stroke="#000" stroke-width="1.3" stroke-linejoin="round">
<path d="M154.35 214.14L155.40 213.09L156.45 214.14L155.40 215.19Z"/>
<path d="M147.65 243.18L148.70 242.13L149.75 243.18L148.70 244.23Z"/>
<path d="M156.05 243.18L157.10 242.13L158.15 243.18L157.10 244.23Z"/>
<path d="M157.05 243.18L158.10 242.13L159.15 243.18L158.10 244.23Z"/>
<path d="M167.25 243.18L168.30 242.13L169.35 243.18L168.30 244.23Z"/>
<path d="M168.25 243.18L169.30 242.13L170.35 243.18L169.30 244.23Z"/>
<path d="M145.85 272.22L146.90 271.17L147.95 272.22L146.90 273.27Z"/>
<path d="M147.85 272.22L148.90 271.17L149.95 272.22L148.90 273.27Z"/>
<path d="M149.85 272.22L150.90 271.17L151.95 272.22L150.90 273.27Z"/>
<path d="M156.55 272.22L157.60 271.17L158.65 272.22L157.60 273.27Z"/>
<path d="M158.55 272.22L159.60 271.17L160.65 272.22L159.60 273.27Z"/>
<path d="M163.25 272.22L164.30 271.17L165.35 272.22L164.30 273.27Z"/>
<path d="M147.35 301.26L148.40 300.21L149.45 301.26L148.40 302.31Z"/>
<path d="M149.85 301.26L150.90 300.21L151.95 301.26L150.90 302.31Z"/>
<path d="M157.35 301.26L158.40 300.21L159.45 301.26L158.40 302.31Z"/>
<path d="M159.85 301.26L160.90 300.21L161.95 301.26L160.90 302.31Z"/>
<path d="M162.35 301.26L163.40 300.21L164.45 301.26L163.40 302.31Z"/>
<path d="M164.75 301.26L165.80 300.21L166.85 301.26L165.80 302.31Z"/>
<path d="M167.25 301.26L168.30 300.21L169.35 301.26L168.30 302.31Z"/>
<path d="M147.15 330.05L148.00 329.20L148.85 330.05L148.00 330.90Z"/>
<path d="M149.15 330.05L150.00 329.20L150.85 330.05L150.00 330.90Z"/>
<path d="M151.15 330.05L152.00 329.20L152.85 330.05L152.00 330.90Z"/>
<path d="M153.15 330.05L154.00 329.20L154.85 330.05L154.00 330.90Z"/>
<path d="M157.15 330.05L158.00 329.20L158.85 330.05L158.00 330.90Z"/>
<path d="M159.15 330.05L160.00 329.20L160.85 330.05L160.00 330.90Z"/>
<path d="M161.15 330.05L162.00 329.20L162.85 330.05L162.00 330.90Z"/>
<path d="M163.15 330.05L164.00 329.20L164.85 330.05L164.00 330.90Z"/>
<path d="M165.15 330.05L166.00 329.20L166.85 330.05L166.00 330.90Z"/>
<path d="M167.15 330.05L168.00 329.20L168.85 330.05L168.00 330.90Z"/>
<path d="M169.15 330.05L170.00 329.20L170.85 330.05L170.00 330.90Z"/>
<path d="M211.95 301.26L213.00 300.21L214.05 301.26L213.00 302.31Z"/>
<path d="M215.75 301.26L216.80 300.21L217.85 301.26L216.80 302.31Z"/>
<path d="M204.15 330.05L205.00 329.20L205.85 330.05L205.00 330.90Z"/>
<path d="M207.15 330.05L208.00 329.20L208.85 330.05L208.00 330.90Z"/>
<path d="M211.15 330.05L212.00 329.20L212.85 330.05L212.00 330.90Z"/>
<path d="M213.15 330.05L214.00 329.20L214.85 330.05L214.00 330.90Z"/>
<path d="M215.15 330.05L216.00 329.20L216.85 330.05L216.00 330.90Z"/>
</g>
<text x="154.00" y="338.60" font-size="6.7" font-weight="bold" text-anchor="middle" fill="#111" stroke="#111" stroke-width="0.23" stroke-linejoin="round" >AML</text>
<text x="206.40" y="338.60" font-size="6.7" font-weight="bold" text-anchor="middle" fill="#111" stroke="#111" stroke-width="0.23" stroke-linejoin="round" >Control</text>
<text x="193.10" y="198.90" font-size="6.8" font-weight="bold" text-anchor="start" fill="#111" stroke="#111" stroke-width="0.24" stroke-linejoin="round" >C/EBP<tspan font-family="Liberation Serif, serif" font-weight="normal" font-size="7.2">ε</tspan></text>
<text x="185.10" y="209.60" font-size="6.7" font-weight="bold" text-anchor="start" fill="#111" stroke="#111" stroke-width="0.23" stroke-linejoin="round" >n.s. (<tspan font-style="italic">P</tspan>=.074)</text>
<rect x="244.6" y="185.1" width="95.1" height="145.20000000000002" fill="none" stroke="#000" stroke-width="2.0"/>
<line x1="242.5" y1="330.30" x2="244.6" y2="330.30" stroke="#000" stroke-width="0.8"/>
<text x="240.40" y="332.60" font-size="5.6" font-weight="bold" text-anchor="end" fill="#111" stroke="#111" stroke-width="0.20" stroke-linejoin="round" textLength="2.70" lengthAdjust="spacingAndGlyphs">0</text>
<line x1="242.5" y1="312.15" x2="244.6" y2="312.15" stroke="#000" stroke-width="0.8"/>
<text x="240.40" y="314.45" font-size="5.6" font-weight="bold" text-anchor="end" fill="#111" stroke="#111" stroke-width="0.20" stroke-linejoin="round" textLength="2.70" lengthAdjust="spacingAndGlyphs">2</text>
<line x1="242.5" y1="294.00" x2="244.6" y2="294.00" stroke="#000" stroke-width="0.8"/>
<text x="240.40" y="296.30" font-size="5.6" font-weight="bold" text-anchor="end" fill="#111" stroke="#111" stroke-width="0.20" stroke-linejoin="round" textLength="2.70" lengthAdjust="spacingAndGlyphs">4</text>
<line x1="242.5" y1="275.85" x2="244.6" y2="275.85" stroke="#000" stroke-width="0.8"/>
<text x="240.40" y="278.15" font-size="5.6" font-weight="bold" text-anchor="end" fill="#111" stroke="#111" stroke-width="0.20" stroke-linejoin="round" textLength="2.70" lengthAdjust="spacingAndGlyphs">6</text>
<line x1="242.5" y1="257.70" x2="244.6" y2="257.70" stroke="#000" stroke-width="0.8"/>
<text x="240.40" y="260.00" font-size="5.6" font-weight="bold" text-anchor="end" fill="#111" stroke="#111" stroke-width="0.20" stroke-linejoin="round" textLength="2.70" lengthAdjust="spacingAndGlyphs">8</text>
<line x1="242.5" y1="239.55" x2="244.6" y2="239.55" stroke="#000" stroke-width="0.8"/>
<text x="240.40" y="241.85" font-size="5.6" font-weight="bold" text-anchor="end" fill="#111" stroke="#111" stroke-width="0.20" stroke-linejoin="round" textLength="5.40" lengthAdjust="spacingAndGlyphs">10</text>
<line x1="242.5" y1="221.40" x2="244.6" y2="221.40" stroke="#000" stroke-width="0.8"/>
<text x="240.40" y="223.70" font-size="5.6" font-weight="bold" text-anchor="end" fill="#111" stroke="#111" stroke-width="0.20" stroke-linejoin="round" textLength="5.40" lengthAdjust="spacingAndGlyphs">12</text>
<line x1="242.5" y1="203.25" x2="244.6" y2="203.25" stroke="#000" stroke-width="0.8"/>
<text x="240.40" y="205.55" font-size="5.6" font-weight="bold" text-anchor="end" fill="#111" stroke="#111" stroke-width="0.20" stroke-linejoin="round" textLength="5.40" lengthAdjust="spacingAndGlyphs">14</text>
<line x1="242.5" y1="185.10" x2="244.6" y2="185.10" stroke="#000" stroke-width="0.8"/>
<text x="240.40" y="187.40" font-size="5.6" font-weight="bold" text-anchor="end" fill="#111" stroke="#111" stroke-width="0.20" stroke-linejoin="round" textLength="5.40" lengthAdjust="spacingAndGlyphs">16</text>
<g fill="#000" stroke="#000" stroke-width="1.3" stroke-linejoin="round">
<path d="M269.15 203.25L270.20 202.20L271.25 203.25L270.20 204.30Z"/>
<path d="M255.95 212.32L257.00 211.27L258.05 212.32L257.00 213.38Z"/>
<path d="M278.95 257.70L280.00 256.65L281.05 257.70L280.00 258.75Z"/>
<path d="M271.75 266.77L272.80 265.72L273.85 266.77L272.80 267.82Z"/>
<path d="M256.05 275.85L257.10 274.80L258.15 275.85L257.10 276.90Z"/>
<path d="M257.65 275.85L258.70 274.80L259.75 275.85L258.70 276.90Z"/>
<path d="M265.85 275.85L266.90 274.80L267.95 275.85L266.90 276.90Z"/>
<path d="M270.95 275.85L272.00 274.80L273.05 275.85L272.00 276.90Z"/>
<path d="M277.05 275.85L278.10 274.80L279.15 275.85L278.10 276.90Z"/>
<path d="M278.95 275.85L280.00 274.80L281.05 275.85L280.00 276.90Z"/>
<path d="M257.65 284.93L258.70 283.88L259.75 284.93L258.70 285.98Z"/>
<path d="M259.75 284.93L260.80 283.88L261.85 284.93L260.80 285.98Z"/>
<path d="M261.85 284.93L262.90 283.88L263.95 284.93L262.90 285.98Z"/>
<path d="M263.75 284.93L264.80 283.88L265.85 284.93L264.80 285.98Z"/>
<path d="M265.85 284.93L266.90 283.88L267.95 284.93L266.90 285.98Z"/>
<path d="M267.75 284.93L268.80 283.88L269.85 284.93L268.80 285.98Z"/>
<path d="M269.65 284.93L270.70 283.88L271.75 284.93L270.70 285.98Z"/>
<path d="M274.15 284.93L275.20 283.88L276.25 284.93L275.20 285.98Z"/>
<path d="M277.35 284.93L278.40 283.88L279.45 284.93L278.40 285.98Z"/>
<path d="M255.75 294.00L256.80 292.95L257.85 294.00L256.80 295.05Z"/>
<path d="M257.35 294.00L258.40 292.95L259.45 294.00L258.40 295.05Z"/>
<path d="M258.95 294.00L260.00 292.95L261.05 294.00L260.00 295.05Z"/>
<path d="M260.85 294.00L261.90 292.95L262.95 294.00L261.90 295.05Z"/>
<path d="M262.95 294.00L264.00 292.95L265.05 294.00L264.00 295.05Z"/>
<path d="M266.95 294.00L268.00 292.95L269.05 294.00L268.00 295.05Z"/>
<path d="M269.05 294.00L270.10 292.95L271.15 294.00L270.10 295.05Z"/>
<path d="M274.15 294.00L275.20 292.95L276.25 294.00L275.20 295.05Z"/>
<path d="M276.05 294.00L277.10 292.95L278.15 294.00L277.10 295.05Z"/>
<path d="M278.15 294.00L279.20 292.95L280.25 294.00L279.20 295.05Z"/>
<path d="M257.35 303.07L258.40 302.02L259.45 303.07L258.40 304.12Z"/>
<path d="M258.95 303.07L260.00 302.02L261.05 303.07L260.00 304.12Z"/>
<path d="M267.75 303.07L268.80 302.02L269.85 303.07L268.80 304.12Z"/>
<path d="M270.15 303.07L271.20 302.02L272.25 303.07L271.20 304.12Z"/>
<path d="M272.05 303.07L273.10 302.02L274.15 303.07L273.10 304.12Z"/>
<path d="M274.15 303.07L275.20 302.02L276.25 303.07L275.20 304.12Z"/>
<path d="M276.05 303.07L277.10 302.02L278.15 303.07L277.10 304.12Z"/>
<path d="M256.55 312.15L257.60 311.10L258.65 312.15L257.60 313.20Z"/>
<path d="M266.15 312.15L267.20 311.10L268.25 312.15L267.20 313.20Z"/>
<path d="M270.95 312.15L272.00 311.10L273.05 312.15L272.00 313.20Z"/>
<path d="M272.55 312.15L273.60 311.10L274.65 312.15L273.60 313.20Z"/>
<path d="M274.95 312.15L276.00 311.10L277.05 312.15L276.00 313.20Z"/>
<path d="M277.35 312.15L278.40 311.10L279.45 312.15L278.40 313.20Z"/>
<path d="M257.35 321.23L258.40 320.18L259.45 321.23L258.40 322.28Z"/>
<path d="M262.95 321.23L264.00 320.18L265.05 321.23L264.00 322.28Z"/>
<path d="M265.35 321.23L266.40 320.18L267.45 321.23L266.40 322.28Z"/>
<path d="M266.95 321.23L268.00 320.18L269.05 321.23L268.00 322.28Z"/>
<path d="M270.95 321.23L272.00 320.18L273.05 321.23L272.00 322.28Z"/>
<path d="M272.55 321.23L273.60 320.18L274.65 321.23L273.60 322.28Z"/>
<path d="M274.95 321.23L276.00 320.18L277.05 321.23L276.00 322.28Z"/>
<path d="M277.35 321.23L278.40 320.18L279.45 321.23L278.40 322.28Z"/>
<path d="M259.15 330.05L260.00 329.20L260.85 330.05L260.00 330.90Z"/>
<path d="M262.15 330.05L263.00 329.20L263.85 330.05L263.00 330.90Z"/>
<path d="M265.15 330.05L266.00 329.20L266.85 330.05L266.00 330.90Z"/>
<path d="M268.15 330.05L269.00 329.20L269.85 330.05L269.00 330.90Z"/>
<path d="M271.15 330.05L272.00 329.20L272.85 330.05L272.00 330.90Z"/>
<path d="M274.15 330.05L275.00 329.20L275.85 330.05L275.00 330.90Z"/>
<path d="M314.95 284.93L316.00 283.88L317.05 284.93L316.00 285.98Z"/>
<path d="M318.55 294.00L319.60 292.95L320.65 294.00L319.60 295.05Z"/>
<path d="M325.55 294.00L326.60 292.95L327.65 294.00L326.60 295.05Z"/>
<path d="M312.35 303.07L313.40 302.02L314.45 303.07L313.40 304.12Z"/>
<path d="M313.55 303.07L314.60 302.02L315.65 303.07L314.60 304.12Z"/>
<path d="M319.25 303.07L320.30 302.02L321.35 303.07L320.30 304.12Z"/>
<path d="M308.35 312.15L309.40 311.10L310.45 312.15L309.40 313.20Z"/>
<path d="M318.95 312.15L320.00 311.10L321.05 312.15L320.00 313.20Z"/>
<path d="M320.95 312.15L322.00 311.10L323.05 312.15L322.00 313.20Z"/>
<path d="M322.95 312.15L324.00 311.10L325.05 312.15L324.00 313.20Z"/>
<path d="M326.35 312.15L327.40 311.10L328.45 312.15L327.40 313.20Z"/>
<path d="M318.35 321.23L319.40 320.18L320.45 321.23L319.40 322.28Z"/>
<path d="M320.15 321.23L321.20 320.18L322.25 321.23L321.20 322.28Z"/>
<path d="M322.15 321.23L323.20 320.18L324.25 321.23L323.20 322.28Z"/>
<path d="M324.35 321.23L325.40 320.18L326.45 321.23L325.40 322.28Z"/>
</g>
<text x="268.80" y="338.60" font-size="6.7" font-weight="bold" text-anchor="middle" fill="#111" stroke="#111" stroke-width="0.23" stroke-linejoin="round" >AML</text>
<text x="321.20" y="338.60" font-size="6.7" font-weight="bold" text-anchor="middle" fill="#111" stroke="#111" stroke-width="0.23" stroke-linejoin="round" >Control</text>
<text x="303.30" y="198.90" font-size="6.8" font-weight="bold" text-anchor="start" fill="#111" stroke="#111" stroke-width="0.24" stroke-linejoin="round" >C/EBP<tspan font-family="Liberation Serif, serif" font-weight="normal" font-size="6.6">ζ</tspan></text>
<text x="293.70" y="209.60" font-size="6.7" font-weight="bold" text-anchor="start" fill="#111" stroke="#111" stroke-width="0.23" stroke-linejoin="round" >n.s.  (<tspan font-style="italic">P</tspan>=.053)</text>
<text transform="translate(9.90 81.50) rotate(-90)" font-size="6.8" font-weight="bold" text-anchor="middle" fill="#111" stroke="#111" stroke-width="0.24" stroke-linejoin="round">number of methylated CpG dinucleotides</text>
<text transform="translate(9.90 252.00) rotate(-90)" font-size="6.75" font-weight="bold" text-anchor="middle" fill="#111" stroke="#111" stroke-width="0.24" stroke-linejoin="round">number of methylated CpG dinucleotides</text>
<path d="M46.7 204.2V197" stroke="#000" stroke-width="1.3" fill="none"/><path d="M44 199.2L46.7 194.9L49.4 199.2L46.7 198.2Z" fill="#000" stroke="#000" stroke-width="0.5" stroke-linejoin="round"/>
<text x="50.60" y="203.60" font-size="6.4" font-weight="normal" text-anchor="start" fill="#222"  >70</text>
<rect x="380.0" y="25.6" width="132.20000000000005" height="155.0" fill="none" stroke="#000" stroke-width="1.2"/>
<line x1="377.7" y1="180.60" x2="380.0" y2="180.60" stroke="#000" stroke-width="0.7"/>
<text x="375.10" y="183.60" font-size="6.2" font-weight="bold" text-anchor="end" fill="#111" stroke="#111" stroke-width="0.22" stroke-linejoin="round" >0</text>
<line x1="377.7" y1="161.22" x2="380.0" y2="161.22" stroke="#000" stroke-width="0.7"/>
<text x="375.10" y="164.22" font-size="6.2" font-weight="bold" text-anchor="end" fill="#111" stroke="#111" stroke-width="0.22" stroke-linejoin="round" >5</text>
<line x1="377.7" y1="141.85" x2="380.0" y2="141.85" stroke="#000" stroke-width="0.7"/>
<text x="375.10" y="144.85" font-size="6.2" font-weight="bold" text-anchor="end" fill="#111" stroke="#111" stroke-width="0.22" stroke-linejoin="round" >10</text>
<line x1="377.7" y1="122.47" x2="380.0" y2="122.47" stroke="#000" stroke-width="0.7"/>
<text x="375.10" y="125.47" font-size="6.2" font-weight="bold" text-anchor="end" fill="#111" stroke="#111" stroke-width="0.22" stroke-linejoin="round" >15</text>
<line x1="377.7" y1="103.10" x2="380.0" y2="103.10" stroke="#000" stroke-width="0.7"/>
<text x="375.10" y="106.10" font-size="6.2" font-weight="bold" text-anchor="end" fill="#111" stroke="#111" stroke-width="0.22" stroke-linejoin="round" >20</text>
<line x1="377.7" y1="83.72" x2="380.0" y2="83.72" stroke="#000" stroke-width="0.7"/>
<text x="375.10" y="86.72" font-size="6.2" font-weight="bold" text-anchor="end" fill="#111" stroke="#111" stroke-width="0.22" stroke-linejoin="round" >25</text>
<line x1="377.7" y1="64.35" x2="380.0" y2="64.35" stroke="#000" stroke-width="0.7"/>
<text x="375.10" y="67.35" font-size="6.2" font-weight="bold" text-anchor="end" fill="#111" stroke="#111" stroke-width="0.22" stroke-linejoin="round" >30</text>
<line x1="377.7" y1="44.97" x2="380.0" y2="44.97" stroke="#000" stroke-width="0.7"/>
<text x="375.10" y="47.97" font-size="6.2" font-weight="bold" text-anchor="end" fill="#111" stroke="#111" stroke-width="0.22" stroke-linejoin="round" >35</text>
<line x1="377.7" y1="25.60" x2="380.0" y2="25.60" stroke="#000" stroke-width="0.7"/>
<text x="375.10" y="28.60" font-size="6.2" font-weight="bold" text-anchor="end" fill="#111" stroke="#111" stroke-width="0.22" stroke-linejoin="round" >40</text>
<rect x="382.2" y="137.4" width="16.60" height="43.20" fill="#000"/>
<rect x="404.7" y="166" width="16.30" height="14.60" fill="#000"/>
<rect x="426.5" y="151.7" width="16.50" height="28.90" fill="#000"/>
<rect x="449" y="36.7" width="16.30" height="143.90" fill="#000"/>
<rect x="471.2" y="103.5" width="16.60" height="77.10" fill="#000"/>
<rect x="493.3" y="123" width="16.30" height="57.60" fill="#000"/>
<text x="388.6" y="191" font-family="Liberation Serif, serif" font-size="12" text-anchor="middle" fill="#111">α</text>
<text x="410.5" y="191" font-family="Liberation Serif, serif" font-size="12" text-anchor="middle" fill="#111">β</text>
<text x="433.4" y="191" font-family="Liberation Serif, serif" font-size="12" text-anchor="middle" fill="#111">γ</text>
<text x="454.6" y="191" font-family="Liberation Serif, serif" font-size="12" text-anchor="middle" fill="#111">δ</text>
<text x="477.5" y="191" font-family="Liberation Serif, serif" font-size="12" text-anchor="middle" fill="#111">ε</text>
<text x="503" y="191" font-family="Liberation Serif, serif" font-size="12" text-anchor="middle" fill="#111">ζ</text>
<line x1="382.7" y1="193.8" x2="506.9" y2="193.8" stroke="#000" stroke-width="0.9"/>
<text x="440.20" y="208.00" font-size="10" font-weight="bold" text-anchor="middle" fill="#111" stroke="#111" stroke-width="0.22" stroke-linejoin="round" >CAAT - Enhancer Binding Protein</text>
<text x="448.90" y="219.80" font-size="10" font-weight="bold" text-anchor="middle" fill="#111" stroke="#111" stroke-width="0.22" stroke-linejoin="round" >Promoter</text>
<text transform="translate(363.90 106.60) rotate(-90)" font-size="8.08" font-weight="bold" text-anchor="middle" fill="#111" stroke="#111" stroke-width="0.28" stroke-linejoin="round">percent of AML patients with hypermethylation</text>
<path d="M27.4 370.6V512.6H269.3" fill="none" stroke="#000" stroke-width="1.2"/>
<text x="23.90" y="515.60" font-size="7.0" font-weight="bold" text-anchor="end" fill="#111" stroke="#111" stroke-width="0.25" stroke-linejoin="round" >0</text>
<text x="23.90" y="495.27" font-size="7.0" font-weight="bold" text-anchor="end" fill="#111" stroke="#111" stroke-width="0.25" stroke-linejoin="round" >5</text>
<text x="23.90" y="474.94" font-size="7.0" font-weight="bold" text-anchor="end" fill="#111" stroke="#111" stroke-width="0.25" stroke-linejoin="round" >10</text>
<text x="23.90" y="454.61" font-size="7.0" font-weight="bold" text-anchor="end" fill="#111" stroke="#111" stroke-width="0.25" stroke-linejoin="round" >15</text>
<text x="23.90" y="434.28" font-size="7.0" font-weight="bold" text-anchor="end" fill="#111" stroke="#111" stroke-width="0.25" stroke-linejoin="round" >20</text>
<text x="23.90" y="413.95" font-size="7.0" font-weight="bold" text-anchor="end" fill="#111" stroke="#111" stroke-width="0.25" stroke-linejoin="round" >25</text>
<text x="23.90" y="393.62" font-size="7.0" font-weight="bold" text-anchor="end" fill="#111" stroke="#111" stroke-width="0.25" stroke-linejoin="round" >30</text>
<text x="23.90" y="373.29" font-size="7.0" font-weight="bold" text-anchor="end" fill="#111" stroke="#111" stroke-width="0.25" stroke-linejoin="round" >35</text>
<text x="28.00" y="522.00" font-size="6.8" font-weight="bold" text-anchor="middle" fill="#111" stroke="#111" stroke-width="0.24" stroke-linejoin="round" >1</text>
<text x="149.20" y="522.00" font-size="6.8" font-weight="bold" text-anchor="middle" fill="#111" stroke="#111" stroke-width="0.24" stroke-linejoin="round" >10</text>
<text x="263.20" y="522.00" font-size="6.8" font-weight="bold" text-anchor="middle" fill="#111" stroke="#111" stroke-width="0.24" stroke-linejoin="round" >100</text>
<g fill="#000" stroke="#000" stroke-width="1.3" stroke-linejoin="round">
<path d="M25.60 420.90L26.80 419.70L28.00 420.90L26.80 422.10Z"/>
<path d="M25.60 424.15L26.80 422.95L28.00 424.15L26.80 425.35Z"/>
<path d="M62.02 411.96L63.22 410.76L64.42 411.96L63.22 413.16Z"/>
<path d="M62.02 458.31L63.22 457.11L64.42 458.31L63.22 459.51Z"/>
<path d="M62.02 479.45L63.22 478.25L64.42 479.45L63.22 480.65Z"/>
<path d="M62.02 483.92L63.22 482.72L64.42 483.92L63.22 485.12Z"/>
<path d="M83.33 430.25L84.53 429.05L85.73 430.25L84.53 431.45Z"/>
<path d="M83.33 487.79L84.53 486.59L85.73 487.79L84.53 488.99Z"/>
<path d="M83.33 496.12L84.53 494.92L85.73 496.12L84.53 497.32Z"/>
<path d="M83.33 507.71L84.53 506.51L85.73 507.71L84.53 508.91Z"/>
<path d="M98.45 383.49L99.65 382.29L100.85 383.49L99.65 384.69Z"/>
<path d="M98.45 429.03L99.65 427.83L100.85 429.03L99.65 430.23Z"/>
<path d="M98.45 459.12L99.65 457.92L100.85 459.12L99.65 460.32Z"/>
<path d="M98.45 472.95L99.65 471.75L100.85 472.95L99.65 474.15Z"/>
<path d="M98.45 479.05L99.65 477.85L100.85 479.05L99.65 480.25Z"/>
<path d="M98.45 480.27L99.65 479.07L100.85 480.27L99.65 481.47Z"/>
<path d="M98.45 489.62L99.65 488.42L100.85 489.62L99.65 490.82Z"/>
<path d="M98.45 493.68L99.65 492.48L100.85 493.68L99.65 494.88Z"/>
<path d="M98.45 498.97L99.65 497.77L100.85 498.97L99.65 500.17Z"/>
<path d="M98.45 507.10L99.65 505.90L100.85 507.10L99.65 508.30Z"/>
<path d="M98.45 512.39L99.65 511.19L100.85 512.39L99.65 513.59Z"/>
<path d="M110.18 381.46L111.38 380.26L112.58 381.46L111.38 382.66Z"/>
<path d="M110.18 457.09L111.38 455.89L112.58 457.09L111.38 458.29Z"/>
<path d="M110.18 464.81L111.38 463.61L112.58 464.81L111.38 466.01Z"/>
<path d="M110.18 466.85L111.38 465.65L112.58 466.85L111.38 468.05Z"/>
<path d="M110.18 494.90L111.38 493.70L112.58 494.90L111.38 496.10Z"/>
<path d="M110.18 505.07L111.38 503.87L112.58 505.07L111.38 506.27Z"/>
<path d="M119.76 471.32L120.96 470.12L122.16 471.32L120.96 472.52Z"/>
<path d="M119.76 474.17L120.96 472.97L122.16 474.17L120.96 475.37Z"/>
<path d="M119.76 511.17L120.96 509.97L122.16 511.17L120.96 512.37Z"/>
<path d="M127.86 487.99L129.06 486.79L130.26 487.99L129.06 489.19Z"/>
<path d="M127.86 497.34L129.06 496.14L130.26 497.34L129.06 498.54Z"/>
<path d="M127.86 501.61L129.06 500.41L130.26 501.61L129.06 502.81Z"/>
<path d="M127.86 506.29L129.06 505.09L130.26 506.29L129.06 507.49Z"/>
<path d="M127.86 513.20L129.06 512.00L130.26 513.20L129.06 514.40Z"/>
<path d="M134.87 437.17L136.07 435.97L137.27 437.17L136.07 438.37Z"/>
<path d="M134.87 471.32L136.07 470.12L137.27 471.32L136.07 472.52Z"/>
<path d="M134.87 497.75L136.07 496.55L137.27 497.75L136.07 498.95Z"/>
<path d="M141.06 479.25L142.26 478.05L143.46 479.25L142.26 480.45Z"/>
<path d="M141.06 487.18L142.26 485.98L143.46 487.18L142.26 488.38Z"/>
<path d="M141.06 498.97L142.26 497.77L143.46 498.97L142.26 500.17Z"/>
<path d="M141.06 503.85L142.26 502.65L143.46 503.85L142.26 505.05Z"/>
<path d="M146.60 416.43L147.80 415.23L149.00 416.43L147.80 417.63Z"/>
<path d="M146.60 468.47L147.80 467.27L149.00 468.47L147.80 469.67Z"/>
<path d="M146.60 499.78L147.80 498.58L149.00 499.78L147.80 500.98Z"/>
<path d="M146.60 506.29L147.80 505.09L149.00 506.29L147.80 507.49Z"/>
<path d="M151.61 490.43L152.81 489.23L154.01 490.43L152.81 491.63Z"/>
<path d="M151.61 510.35L152.81 509.15L154.01 510.35L152.81 511.55Z"/>
<path d="M156.18 456.28L157.38 455.08L158.58 456.28L157.38 457.48Z"/>
<path d="M156.18 485.14L157.38 483.94L158.58 485.14L157.38 486.34Z"/>
<path d="M156.18 486.77L157.38 485.57L158.58 486.77L157.38 487.97Z"/>
<path d="M156.18 508.32L157.38 507.12L158.58 508.32L157.38 509.52Z"/>
<path d="M164.28 480.27L165.48 479.07L166.68 480.27L165.48 481.47Z"/>
<path d="M192.61 492.87L193.81 491.67L195.01 492.87L193.81 494.07Z"/>
<path d="M198.80 506.08L200.00 504.88L201.20 506.08L200.00 507.28Z"/>
<path d="M201.08 506.29L202.28 505.09L203.48 506.29L202.28 507.49Z"/>
<path d="M210.91 494.09L212.11 492.89L213.31 494.09L212.11 495.29Z"/>
<path d="M248.86 496.53L250.06 495.33L251.26 496.53L250.06 497.73Z"/>
</g>
<text transform="translate(11.00 437.50) rotate(-90)" font-size="10.5" font-weight="bold" text-anchor="middle" fill="#111" stroke="#111" stroke-width="0.22" stroke-linejoin="round">C/EBP<tspan font-family="Liberation Serif, serif" font-weight="normal" font-size="11">δ</tspan> mRNA expression</text>
<text x="158.20" y="534.10" font-size="10.2" font-weight="bold" text-anchor="middle" fill="#111" stroke="#111" stroke-width="0.22" stroke-linejoin="round" >C/EBP<tspan font-family="Liberation Serif, serif" font-weight="normal" font-size="10.5">δ</tspan> methylation</text>
<text x="219.60" y="375.00" font-size="9.5" font-weight="bold" text-anchor="start" fill="#111" stroke="#111" stroke-width="0.22" stroke-linejoin="round" ><tspan font-style="italic">P</tspan>=.005</text>
<text x="218.70" y="385.20" font-size="9.5" font-weight="bold" text-anchor="start" fill="#111" stroke="#111" stroke-width="0.22" stroke-linejoin="round" ><tspan font-style="italic">r</tspan>=-0.34</text>
<rect x="317.2" y="367.0" width="183.20" height="166.40" fill="none" stroke="#4a4a4a" stroke-width="1"/>
<line x1="314.2" y1="525.40" x2="317.2" y2="525.40" stroke="#333" stroke-width="0.9"/>
<text x="312.20" y="528.30" font-size="8" font-weight="bold" text-anchor="end" fill="#111" stroke="#111" stroke-width="0.28" stroke-linejoin="round" >0</text>
<line x1="314.2" y1="482.55" x2="317.2" y2="482.55" stroke="#333" stroke-width="0.9"/>
<text x="312.20" y="485.45" font-size="8" font-weight="bold" text-anchor="end" fill="#111" stroke="#111" stroke-width="0.28" stroke-linejoin="round" >10</text>
<line x1="314.2" y1="439.70" x2="317.2" y2="439.70" stroke="#333" stroke-width="0.9"/>
<text x="312.20" y="442.60" font-size="8" font-weight="bold" text-anchor="end" fill="#111" stroke="#111" stroke-width="0.28" stroke-linejoin="round" >20</text>
<line x1="314.2" y1="396.85" x2="317.2" y2="396.85" stroke="#333" stroke-width="0.9"/>
<text x="312.20" y="399.75" font-size="8" font-weight="bold" text-anchor="end" fill="#111" stroke="#111" stroke-width="0.28" stroke-linejoin="round" >30</text>
<g fill="#000">
<circle cx="355.9" cy="385.8" r="2"/>
<circle cx="355.9" cy="388.5" r="2"/>
<circle cx="348.1" cy="418.9" r="2"/>
<circle cx="353.2" cy="428.1" r="2"/>
<circle cx="351.9" cy="431.6" r="2"/>
<circle cx="344.9" cy="436.7" r="2"/>
<circle cx="351.4" cy="437.8" r="2"/>
<circle cx="355.9" cy="466.4" r="2"/>
<circle cx="358.1" cy="468" r="2"/>
<circle cx="351.9" cy="474.5" r="2"/>
<circle cx="353.8" cy="476.1" r="2"/>
<circle cx="360" cy="482.5" r="2"/>
<circle cx="346" cy="489" r="2"/>
<circle cx="348.9" cy="489" r="2"/>
<circle cx="351.6" cy="489.3" r="2"/>
<circle cx="358.1" cy="489.3" r="2"/>
<circle cx="362.7" cy="489.8" r="2"/>
<circle cx="349.5" cy="494.7" r="2"/>
<circle cx="350.5" cy="496.8" r="2"/>
<circle cx="354.6" cy="499.8" r="2"/>
<circle cx="358.9" cy="505.4" r="2"/>
<circle cx="360.8" cy="506" r="2"/>
<circle cx="364.3" cy="503.8" r="2"/>
<circle cx="363.5" cy="508.1" r="2"/>
<circle cx="352.2" cy="510.5" r="2"/>
<circle cx="354" cy="510.5" r="2"/>
<circle cx="350.8" cy="518.1" r="2"/>
<circle cx="358.9" cy="516.2" r="2"/>
<circle cx="362.7" cy="518.1" r="2"/>
<circle cx="366.7" cy="519.4" r="2"/>
<circle cx="354.9" cy="524.3" r="2"/>
<circle cx="405.5" cy="423.2" r="2"/>
<circle cx="409.1" cy="445.4" r="2"/>
<circle cx="406.9" cy="465" r="2"/>
<circle cx="408.3" cy="478.2" r="2"/>
<circle cx="404.2" cy="481.7" r="2"/>
<circle cx="405" cy="483.9" r="2"/>
<circle cx="406.9" cy="490.4" r="2"/>
<circle cx="413.7" cy="489.8" r="2"/>
<circle cx="406.1" cy="496" r="2"/>
<circle cx="412.3" cy="497.9" r="2"/>
<circle cx="416.3" cy="497.4" r="2"/>
<circle cx="406.9" cy="501.4" r="2"/>
<circle cx="403.7" cy="508.7" r="2"/>
<circle cx="411.8" cy="510.5" r="2"/>
<circle cx="414.2" cy="509.5" r="2"/>
<circle cx="417.7" cy="513.2" r="2"/>
<circle cx="415" cy="515.4" r="2"/>
<circle cx="405.6" cy="518.1" r="2"/>
<circle cx="420.4" cy="518.1" r="2"/>
<circle cx="409.1" cy="520.2" r="2"/>
<circle cx="412.3" cy="522.7" r="2"/>
<circle cx="417.2" cy="522.7" r="2"/>
<circle cx="404.2" cy="525.6" r="2"/>
<circle cx="467.5" cy="503.8" r="2"/>
<circle cx="468.9" cy="505.4" r="2"/>
<circle cx="460" cy="518.1" r="2"/>
<circle cx="467.5" cy="517.5" r="2"/>
</g>
<line x1="340.6" y1="478" x2="368.9" y2="478" stroke="#000" stroke-width="1.5"/>
<line x1="397" y1="497.9" x2="425.8" y2="497.9" stroke="#000" stroke-width="1.5"/>
<line x1="453.2" y1="510" x2="481.8" y2="510" stroke="#000" stroke-width="1.5"/>
<text x="356.30" y="544.60" font-size="8.5" font-weight="bold" text-anchor="middle" fill="#111" stroke="#111" stroke-width="0.30" stroke-linejoin="round" >Low</text>
<text x="411.60" y="544.60" font-size="8.5" font-weight="bold" text-anchor="middle" fill="#111" stroke="#111" stroke-width="0.30" stroke-linejoin="round" >Intermediate</text>
<text x="467.60" y="544.60" font-size="8.5" font-weight="bold" text-anchor="middle" fill="#111" stroke="#111" stroke-width="0.30" stroke-linejoin="round" >High</text>
<text x="412.40" y="560.10" font-size="10.55" font-weight="bold" text-anchor="middle" fill="#111" stroke="#111" stroke-width="0.22" stroke-linejoin="round" >Level of C/EBP<tspan font-family="Liberation Serif, serif" font-weight="normal" font-size="10.8">δ</tspan> methylation</text>
<text transform="translate(298.20 457.30) rotate(-90)" font-size="10.6" font-weight="bold" text-anchor="middle" fill="#111" stroke="#111" stroke-width="0.22" stroke-linejoin="round">C/EBP<tspan font-family="Liberation Serif, serif" font-weight="normal" font-size="11">δ</tspan> mRNA expression</text>
<text x="456.40" y="385.60" font-size="9.8" font-weight="bold" text-anchor="start" fill="#111" stroke="#111" stroke-width="0.22" stroke-linejoin="round" ><tspan font-style="italic">P</tspan>=.016</text>
</svg>
</body></html>
